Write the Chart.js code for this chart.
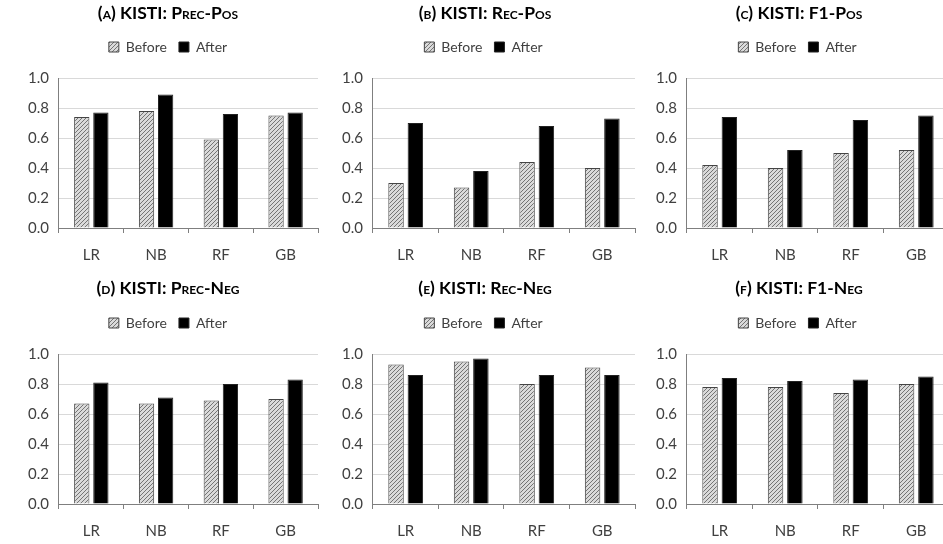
<!DOCTYPE html>
<html>
<head>
<meta charset="utf-8">
<script src="https://cdn.jsdelivr.net/npm/chart.js@4.4.1/dist/chart.umd.min.js"></script>
<style>
  html, body { margin: 0; padding: 0; background: #fff; }
  #wrap { position: relative; width: 943px; height: 544px; overflow: hidden; }
  .panel { position: absolute; width: 320px; height: 283px; }
  .ttl {
    position: absolute; width: 320px; text-align: center;
    font: bold 17.5px Lato, "Open Sans", sans-serif; font-variant: small-caps;
    line-height: 22px; color: #000; white-space: nowrap;
  }
</style>
</head>
<body>
<div id="wrap">
  <div class="panel" style="left:8px;top:0px"><canvas id="c0"></canvas></div>
  <div class="panel" style="left:325px;top:0px"><canvas id="c1"></canvas></div>
  <div class="panel" style="left:639px;top:0px"><canvas id="c2"></canvas></div>
  <div class="panel" style="left:8px;top:276px"><canvas id="c3"></canvas></div>
  <div class="panel" style="left:325px;top:276px"><canvas id="c4"></canvas></div>
  <div class="panel" style="left:639px;top:276px"><canvas id="c5"></canvas></div>
  <div class="ttl" id="t0" style="left:8px;top:2px"></div>
  <div class="ttl" id="t1" style="left:325px;top:2px"></div>
  <div class="ttl" id="t2" style="left:639px;top:2px"></div>
  <div class="ttl" id="t3" style="left:8px;top:277px"></div>
  <div class="ttl" id="t4" style="left:325px;top:277px"></div>
  <div class="ttl" id="t5" style="left:639px;top:277px"></div>
</div>
<script>
// ---- data ----
const models = ["LR", "NB", "RF", "GB"];
const seriesNames = ["Before", "After"];
const yTicks = [0, 0.2, 0.4, 0.6, 0.8, 1.0];

const precPosBefore = [0.74, 0.78, 0.59, 0.75];
const precPosAfter  = [0.77, 0.89, 0.76, 0.77];
const recPosBefore  = [0.30, 0.27, 0.44, 0.40];
const recPosAfter   = [0.70, 0.38, 0.68, 0.73];
const f1PosBefore   = [0.42, 0.40, 0.50, 0.52];
const f1PosAfter    = [0.74, 0.52, 0.72, 0.75];
const precNegBefore = [0.67, 0.67, 0.69, 0.70];
const precNegAfter  = [0.81, 0.71, 0.80, 0.83];
const recNegBefore  = [0.93, 0.95, 0.80, 0.91];
const recNegAfter   = [0.86, 0.97, 0.86, 0.86];
const f1NegBefore   = [0.78, 0.78, 0.74, 0.80];
const f1NegAfter    = [0.84, 0.82, 0.83, 0.85];

const panelTitles = [
  "(a) KISTI: Prec-Pos", "(b) KISTI: Rec-Pos", "(c) KISTI: F1-Pos",
  "(d) KISTI: Prec-Neg", "(e) KISTI: Rec-Neg", "(f) KISTI: F1-Neg"
];
const panelBefore = [precPosBefore, recPosBefore, f1PosBefore, precNegBefore, recNegBefore, f1NegBefore];
const panelAfter  = [precPosAfter, recPosAfter, f1PosAfter, precNegAfter, recNegAfter, f1NegAfter];

// left padding per column so the y axes line up with the original
const leftPad = [10, 7, 7];

// ---- hatch pattern for "Before" ----
function makeHatch() {
  const c = document.createElement("canvas");
  c.width = 4; c.height = 4;
  const g = c.getContext("2d");
  g.fillStyle = "#dadada";
  g.fillRect(0, 0, 4, 4);
  g.strokeStyle = "#747474";
  g.lineWidth = 1;
  g.beginPath();
  g.moveTo(0, 4); g.lineTo(4, 0);
  g.moveTo(-1, 1); g.lineTo(1, -1);
  g.moveTo(3, 5); g.lineTo(5, 3);
  g.stroke();
  return g.createPattern(c, "repeat");
}
const hatch = makeHatch();

const textColor = "#404040";
const fontFamily = "Lato, 'Open Sans', sans-serif";

panelTitles.forEach((title, i) => {
  document.getElementById("t" + i).textContent = title;

  const ctx = document.getElementById("c" + i).getContext("2d");
  new Chart(ctx, {
    type: "bar",
    data: {
      labels: models,
      datasets: [
        {
          label: seriesNames[0],
          data: panelBefore[i],
          backgroundColor: hatch,
          borderColor: "#444",
          borderWidth: 1,
          categoryPercentage: 0.59,
          barPercentage: 0.8
        },
        {
          label: seriesNames[1],
          data: panelAfter[i],
          backgroundColor: "#000",
          borderColor: "#222",
          borderWidth: 1,
          categoryPercentage: 0.59,
          barPercentage: 0.8
        }
      ]
    },
    options: {
      responsive: true,
      maintainAspectRatio: false,
      animation: false,
      layout: { padding: { left: leftPad[i % 3], right: 10, top: 28, bottom: 6 } },
      plugins: {
        // title text is drawn as html (small caps); subtitle is just a spacer under the legend
        title: { display: false },
        subtitle: {
          display: true,
          text: " ",
          weight: 500,
          font: { size: 10 },
          padding: { top: 1, bottom: 1 }
        },
        legend: {
          position: "top",
          labels: {
            boxWidth: 10,
            boxHeight: 10,
            padding: 12,
            color: textColor,
            font: { family: fontFamily, size: 14 }
          }
        },
        tooltip: { enabled: false }
      },
      scales: {
        x: {
          offset: true,
          grid: {
            offset: true,
            drawOnChartArea: false,
            drawTicks: true,
            tickLength: 5,
            color: "#7f7f7f"
          },
          border: { display: true, color: "#7f7f7f", width: 1 },
          ticks: { color: textColor, padding: 13, font: { family: fontFamily, size: 15 } }
        },
        y: {
          min: 0,
          max: 1,
          afterBuildTicks: axis => { axis.ticks = yTicks.map(v => ({ value: v })); },
          grid: { color: "#d9d9d9", drawTicks: false },
          border: { display: true, color: "#7f7f7f", width: 1 },
          ticks: {
            color: textColor,
            padding: 10,
            font: { family: fontFamily, size: 15 },
            callback: v => Number(v).toFixed(1)
          }
        }
      }
    }
  });
});
</script>
</body>
</html>
